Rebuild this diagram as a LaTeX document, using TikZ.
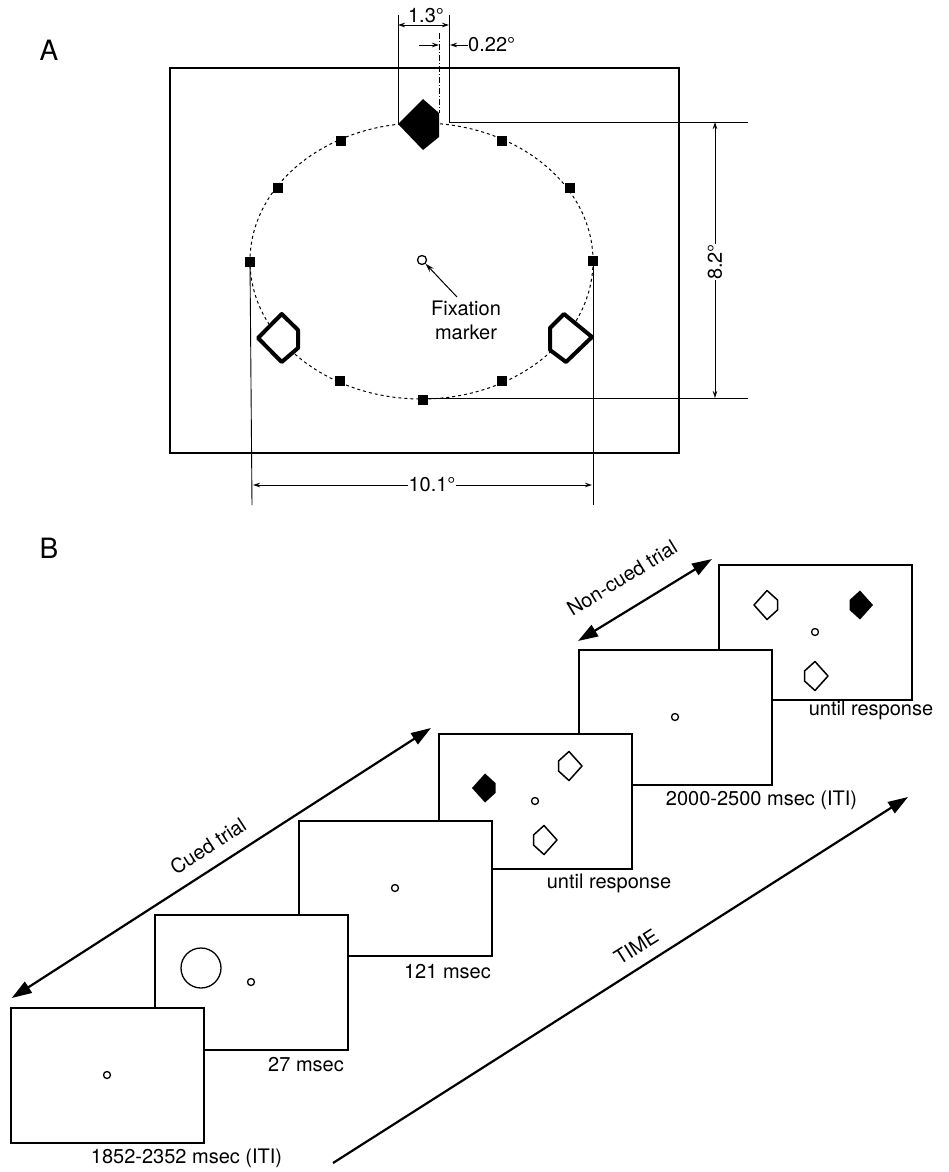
\documentclass[tikz,border=0pt]{standalone}
\usepackage{fontspec}
\setmainfont{TeX Gyre Heros}
\usetikzlibrary{arrows.meta}
\tikzset{
  dR/.pic={\path[pic actions] (0,-14.5)--(10.5,-5)--(10.5,5)--(0,14.5)--(-13,0)--cycle;},
  dL/.pic={\path[pic actions] (0,-14.5)--(13,0)--(0,14.5)--(-10.5,5)--(-10.5,-5)--cycle;}
}
\begin{document}
\begin{tikzpicture}[x=1pt,y=-1pt,
  lbl/.style={font=\fontsize{20}{24}\selectfont, inner sep=0pt},
  big/.style={font=\fontsize{28}{32}\selectfont, inner sep=0pt},
  dim/.style={line width=0.9pt},
  sarr/.style={-{Stealth[length=7pt,width=4.5pt]}},
  sq/.style={fill=black, minimum size=10pt, inner sep=0pt},
  scr/.style={draw, fill=white, line width=1.7pt, minimum width=193pt, minimum height=135pt, anchor=north west, inner sep=0pt},
  fix/.style={circle, draw, line width=1.3pt, minimum size=7pt, inner sep=0pt},
  bigtip/.style={line width=2.2pt},
  odiam/.style={draw, line width=1.5pt, fill=white, line join=round},
  fdiam/.style={fill=black}
]
\useasboundingbox (0,0) rectangle (948,1172);
\fill[white] (0,0) rectangle (948,1172);

% ---------------- Panel A ----------------
\node[big] (A) at (49,50) {A};
\draw[line width=2.8pt] (170,68) rectangle (679,453);
\draw[line width=1pt, dash pattern=on 3pt off 3pt] (421.5,261) ellipse [x radius=171.5, y radius=138];

\node[sq] (s0) at (593,261) {};
\node[sq] (s30) at (570,188) {};
\node[sq] (s60) at (502,141) {};
\node[sq] (s120) at (341,141) {};
\node[sq] (s150) at (278,188) {};
\node[sq] (s180) at (250,262) {};
\node[sq] (s240) at (340,381) {};
\node[sq] (s270) at (423,400) {};
\node[sq] (s300) at (502,381) {};

\fill (398,124) -- (423,99) -- (439,113) -- (439,137) -- (423,150) -- cycle;
\draw[line width=4pt, fill=white, line join=round] (258,338) -- (281.7,314) -- (298,330) -- (298,348) -- (281.7,362) -- cycle;
\draw[line width=4pt, fill=white, line join=round] (592,337) -- (564,314) -- (550,328) -- (550,350) -- (566,362) -- cycle;

\node[fix, minimum size=9pt] (fixA) at (422,260) {};
\node[lbl, align=center] (fixlbl) at (466,320) {Fixation\\marker};
\coordinate (fixtail) at (457,297);
\draw[line width=1pt, -{Stealth[length=9pt,width=5.5pt]}] (fixtail) -- (fixA);

% 1.3 deg
\coordinate (eL1) at (398,124); \coordinate (eL2) at (398,15);
\coordinate (eR1) at (449,122); \coordinate (eR2) at (449,15);
\draw[dim] (eL1) -- (eL2);
\draw[dim] (eR1) -- (eR2);
\draw[dim, {Stealth[length=7pt,width=4.5pt]}-{Stealth[length=7pt,width=4.5pt]}] (398,25) -- (449,25);
\node[lbl, anchor=base] (t13) at (426,23) {1.3°};
% 0.22 deg
\draw[dim, dash pattern=on 6pt off 2pt on 1pt off 2pt] (439,33) -- (439,113);
\draw[dim, sarr] (419,45) -- (439,45);
\draw[dim, sarr] (468,45) -- (450,45);
\node[lbl, anchor=west] (t022) at (468,45) {0.22°};
% 8.2 deg
\draw[dim] (449,122) -- (748,122);
\draw[dim] (423,398) -- (748,398);
\node[lbl, rotate=90] (t82) at (715,262) {8.2°};
\draw[dim, sarr] (t82.east) -- (715,122);
\draw[dim, sarr] (t82.west) -- (715,398);
% 10.1 deg
\draw[dim] (s180) -- (252,505);
\draw[dim] (s0) -- (593,505);
\node[lbl] (t101) at (432,485) {10.1°};
\draw[dim, sarr] (t101.west) -- (253,485);
\draw[dim, sarr] (t101.east) -- (592,485);

% ---------------- Panel B ----------------
\node[big] (B) at (49,548) {B};

% frame 6
\node[scr] (f6) at (718,564) {};
\node[fix] (x6) at (815,632) {};
\pic[odiam] at (767,605) {dR};
\pic[fdiam] at (860,605) {dL};
\pic[odiam] at (815,676) {dL};
% frame 5
\node[scr] (f5) at (578,649) {};
\node[fix] (x5) at (675,717) {};
% frame 4
\node[scr] (f4) at (438,733) {};
\node[fix] (x4) at (535,801) {};
\pic[fdiam] at (485,788) {dR};
\pic[odiam] at (569,766) {dL};
\pic[odiam] at (544,840) {dL};
% frame 3
\node[scr] (f3) at (298,820) {};
\node[fix] (x3) at (395,888) {};
% frame 2
\node[scr] (f2) at (154,914) {};
\node[fix] (x2) at (251,982) {};
\node[circle, draw, line width=1.3pt, minimum size=40pt, inner sep=0pt] (cue) at (201,968) {};
% frame 1
\node[scr] (f1) at (10,1007) {};
\node[fix] (x1) at (107,1075) {};

% labels
\node[lbl] (l1) at (186.5,1158) {1852-2352 msec (ITI)};
\node[lbl] (l2) at (306,1065) {27 msec};
\node[lbl, anchor=east] (l3) at (491,972) {121 msec};
\node[lbl] (l4) at (609,883) {until response};
\node[lbl] (l5) at (761.5,800) {2000-2500 msec (ITI)};
\node[lbl] (l6) at (871,710) {until response};

% arrows
\coordinate (cA) at (11.7,998);
\coordinate (cB) at (431,728);
\draw[bigtip, {Triangle[length=20pt,width=13pt]}-{Triangle[length=20pt,width=13pt]}] (cA) -- (cB);
\node[lbl, rotate=33] (tc) at (208,846) {Cued trial};

\coordinate (nA) at (578,641);
\coordinate (nB) at (712,559);
\draw[bigtip, {Triangle[length=20pt,width=13pt]}-{Triangle[length=20pt,width=13pt]}] (nA) -- (nB);
\node[lbl, rotate=31.5] (tn) at (622,578) {Non-cued trial};

\coordinate (tA) at (333,1163);
\coordinate (tB) at (908,797);
\draw[bigtip, -{Triangle[length=20pt,width=13pt]}] (tA) -- (tB);
\node[lbl, rotate=32.5] (tt) at (636,947) {TIME};
\end{tikzpicture}
\end{document}
